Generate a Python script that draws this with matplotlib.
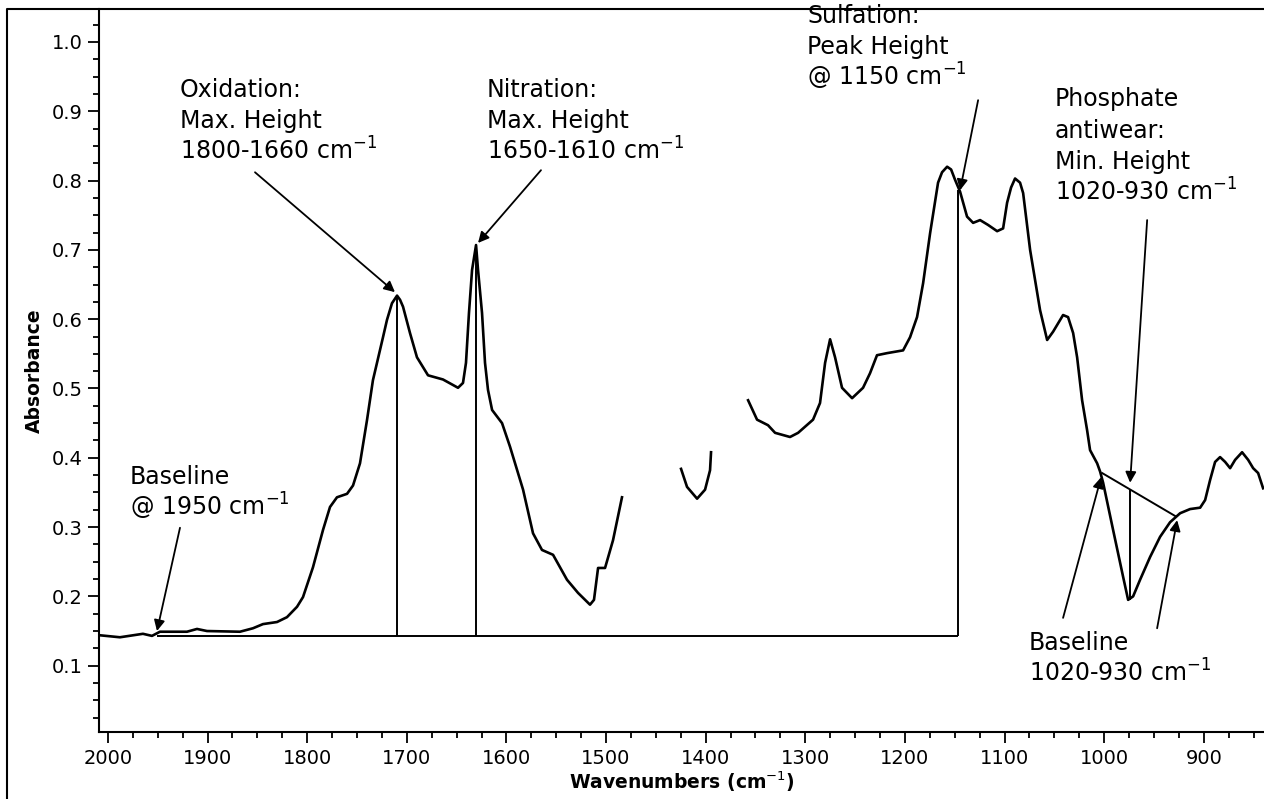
import matplotlib.pyplot as plt
import numpy as np
from matplotlib.lines import Line2D
from matplotlib.ticker import MultipleLocator

plt.rcParams['font.family'] = ['DejaVu Sans']

# spectrum (gaps where the trace is blanked out)
wn_a = [2009.0, 1988.0, 1964.9, 1955.8, 1947.8, 1920.7, 1910.6, 1900.6, 1867.5, 1854.4,
        1844.4, 1830.3, 1820.3, 1810.2, 1804.2, 1794.2, 1784.1, 1777.1, 1770.1, 1760.0,
        1754.0, 1747.0, 1740.0, 1734.0, 1723.9, 1719.9, 1714.9, 1709.8, 1706.8, 1703.8,
        1696.8, 1689.8, 1678.7, 1663.7, 1653.6, 1648.6, 1643.6, 1640.6, 1637.6, 1634.5,
        1630.5, 1628.5, 1624.5, 1621.5, 1618.5, 1614.4, 1604.4, 1596.4, 1583.3, 1573.3,
        1564.3, 1553.2, 1539.2, 1528.1, 1516.1, 1512.1, 1508.0, 1501.0, 1493.0, 1484.0]
ab_a = [0.144, 0.141, 0.146, 0.143, 0.149, 0.149, 0.153, 0.150, 0.149, 0.154,
        0.160, 0.163, 0.170, 0.185, 0.199, 0.242, 0.296, 0.329, 0.343, 0.348,
        0.360, 0.392, 0.454, 0.512, 0.574, 0.599, 0.623, 0.634, 0.628, 0.618,
        0.580, 0.545, 0.519, 0.513, 0.505, 0.501, 0.508, 0.537, 0.609, 0.671,
        0.707, 0.671, 0.609, 0.537, 0.498, 0.469, 0.450, 0.416, 0.354, 0.291,
        0.267, 0.260, 0.224, 0.205, 0.188, 0.195, 0.241, 0.241, 0.281, 0.343]

wn_b = [1424.7, 1418.7, 1408.6, 1400.6, 1395.6, 1394.6]
ab_b = [0.384, 0.358, 0.341, 0.354, 0.382, 0.408]

wn_c = [1357.4, 1348.4, 1337.4, 1330.3, 1315.3, 1307.2, 1292.2, 1285.2, 1280.1, 1275.1,
        1270.1, 1263.1, 1253.0, 1242.0, 1235.0, 1228.0, 1217.9, 1201.8, 1194.8, 1187.8,
        1181.7, 1174.7, 1166.7, 1162.7, 1157.6, 1153.6, 1149.6, 1144.6, 1137.6, 1131.5,
        1124.5, 1116.5, 1107.4, 1101.4, 1097.4, 1093.4, 1089.4, 1084.4, 1081.3, 1074.3,
        1064.3, 1057.2, 1051.2, 1041.2, 1036.2, 1031.1, 1027.1, 1022.1, 1017.1, 1014.1,
        1007.0, 1004.0, 1001.0, 991.0, 980.9, 975.9, 970.9, 963.9, 953.8, 943.8,
        933.8, 923.7, 913.7, 903.6, 898.6, 893.6, 888.6, 883.6, 878.5, 873.5,
        868.5, 861.5, 855.4, 850.4, 845.4, 840.4]
ab_c = [0.483, 0.455, 0.447, 0.436, 0.430, 0.436, 0.455, 0.479, 0.537, 0.571,
        0.545, 0.501, 0.486, 0.501, 0.522, 0.548, 0.551, 0.555, 0.574, 0.603,
        0.652, 0.724, 0.797, 0.812, 0.820, 0.816, 0.801, 0.784, 0.748, 0.739,
        0.743, 0.736, 0.727, 0.731, 0.768, 0.790, 0.803, 0.797, 0.782, 0.700,
        0.613, 0.570, 0.582, 0.606, 0.603, 0.580, 0.545, 0.483, 0.440, 0.411,
        0.392, 0.380, 0.364, 0.296, 0.228, 0.195, 0.200, 0.224, 0.257, 0.286,
        0.307, 0.320, 0.326, 0.328, 0.339, 0.368, 0.394, 0.401, 0.394, 0.385,
        0.397, 0.408, 0.397, 0.385, 0.378, 0.356]

# baseline / peak-height construction lines
base_level = 0.143
base_start, base_end = 1951, 1147
peak_wn = [1709.8, 1630.5, 1146.6]
peak_top = [0.634, 0.707, 0.786]
phos_base_wn = [1002.0, 928.7]
phos_base_ab = [0.378, 0.316]
phos_min_wn = 973.9
phos_min = [0.195, 0.354]

fig = plt.figure(figsize=(12.64, 7.99), dpi=100)
ax = fig.add_axes([99 / 1264, (799 - 732) / 799, 1 - 99 / 1264, (732 - 9) / 799])

lw = 1.9
ax.plot(wn_a, ab_a, color='black', lw=lw, solid_joinstyle='round')
ax.plot(wn_b, ab_b, color='black', lw=lw, solid_joinstyle='round')
ax.plot(wn_c, ab_c, color='black', lw=lw, solid_joinstyle='round')

ax.hlines(base_level, base_end, base_start, color='black', lw=1.4)
ax.vlines(peak_wn, base_level, peak_top, color='black', lw=1.4)
ax.plot(phos_base_wn, phos_base_ab, color='black', lw=1.4)
ax.vlines(phos_min_wn, phos_min[0], phos_min[1], color='black', lw=1.4)

ax.set_xlim(2009, 839.5)
ax.set_ylim(0.0043, 1.0476)

# labels with arrows
arrow = dict(arrowstyle='-|>', mutation_scale=16, lw=1.3, color='black',
             shrinkA=0, shrinkB=0)
ann_size = 17
line_step = 22.7  # points between baselines


def label(x, y, lines):
    # y is the baseline of the first line; following lines are stacked evenly
    for i, s in enumerate(lines):
        ax.annotate(s, xy=(x, y), xytext=(0, -i * line_step), textcoords='offset points',
                    fontsize=ann_size, ha='left', va='baseline', annotation_clip=False)


label(1927.7, 0.921, ['Oxidation:', 'Max. Height', '1800-1660 cm$^{-1}$'])
ax.annotate('', xy=(1711.9, 0.639), xytext=(1852.4, 0.812), arrowprops=arrow)

label(1619.5, 0.921, ['Nitration:', 'Max. Height', '1650-1610 cm$^{-1}$'])
ax.annotate('', xy=(1628.5, 0.710), xytext=(1565.3, 0.815), arrowprops=arrow)

label(1298.2, 1.028, ['Sulfation:', 'Peak Height', '@ 1150 cm$^{-1}$'])
ax.annotate('', xy=(1144.6, 0.786), xytext=(1126.5, 0.916), arrowprops=arrow)

label(1049.2, 0.907, ['Phosphate', 'antiwear:', 'Min. Height', '1020-930 cm$^{-1}$'])
ax.annotate('', xy=(973.9, 0.364), xytext=(956.8, 0.743), arrowprops=arrow)

label(1977.9, 0.3615, ['Baseline', '@ 1950 cm$^{-1}$'])
ax.annotate('', xy=(1950.8, 0.150), xytext=(1927.7, 0.299), arrowprops=arrow)

label(1075.3, 0.122, ['Baseline', '1020-930 cm$^{-1}$'])
ax.annotate('', xy=(1003.0, 0.372), xytext=(1041.2, 0.169), arrowprops=arrow)
ax.annotate('', xy=(926.7, 0.310), xytext=(946.8, 0.154), arrowprops=arrow)

# axes styling
ax.xaxis.set_major_locator(MultipleLocator(100))
ax.xaxis.set_minor_locator(MultipleLocator(25))
ax.yaxis.set_major_locator(MultipleLocator(0.1))
ax.yaxis.set_minor_locator(MultipleLocator(0.025))
ax.yaxis.set_major_formatter(plt.FuncFormatter(lambda v, p: f'{v:.1f}'))
ax.tick_params(which='major', length=8, width=1.3, labelsize=14, pad=4)
ax.tick_params(which='minor', length=4, width=1.3)
ax.spines['top'].set_visible(False)
ax.spines['right'].set_visible(False)
ax.spines['left'].set_linewidth(1.5)
ax.spines['bottom'].set_linewidth(1.5)

ax.set_xlabel('Wavenumbers (cm$^{-1}$)', fontsize=13.5, fontweight='bold', labelpad=1)
ax.set_ylabel('Absorbance', fontsize=13.5, fontweight='bold', labelpad=5)

# outer frame (cut off at right and bottom)
fx = 7 / 1264
fy = 1 - 9 / 799
fig.add_artist(Line2D([fx, fx, 1], [0, fy, fy], transform=fig.transFigure,
                      color='black', lw=1.5))

fig.savefig('out.png', dpi=100)
